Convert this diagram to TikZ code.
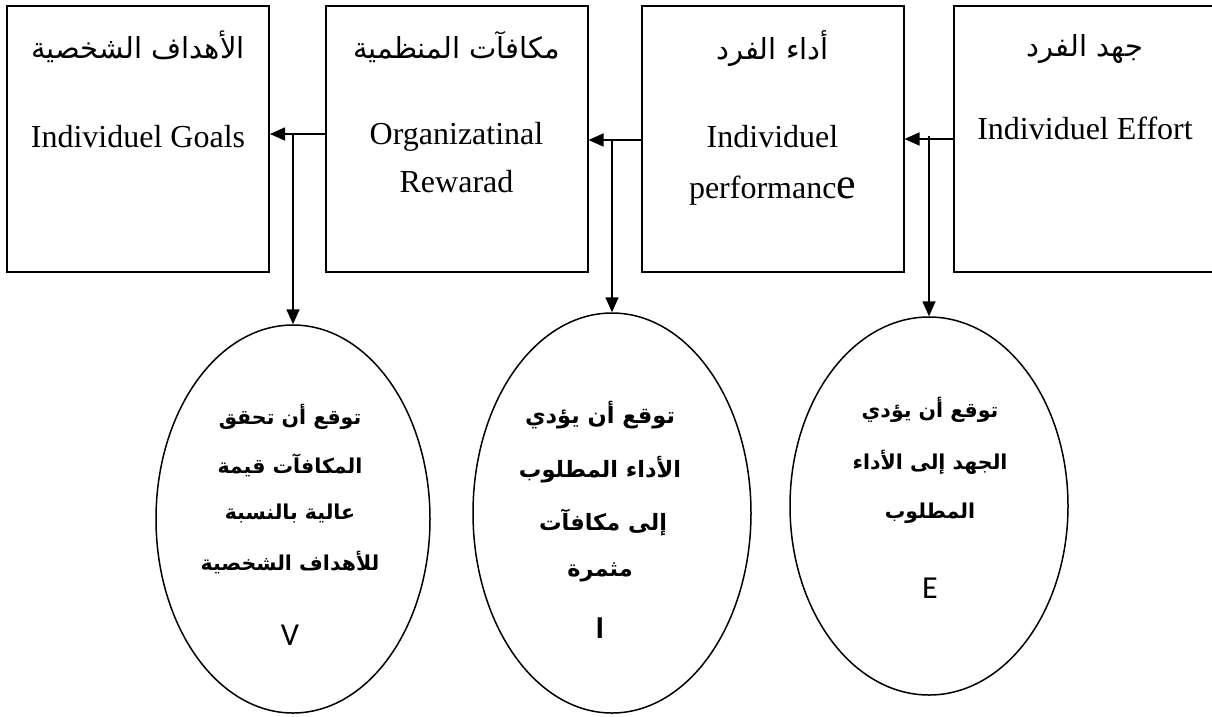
\documentclass[tikz,border=0pt]{standalone}
\usepackage{fontspec}
\setmainfont{Liberation Serif}
\newfontfamily\arabicfont[Script=Arabic]{DejaVu Sans}
\newfontfamily\lettersans{Carlito}
\TeXXeTstate=1
\usetikzlibrary{shapes.geometric,arrows.meta}

\begin{document}
\begin{tikzpicture}[x=1pt,y=-1pt,
  box/.style={draw,line width=2pt,minimum width=262pt,minimum height=266pt,inner sep=0pt},
  oval/.style={draw,ellipse,line width=1.5pt,inner sep=0pt},
  title/.style={font=\arabicfont\fontsize{29}{32}\selectfont,inner sep=0pt},
  eng/.style={font=\fontsize{32}{36}\selectfont,inner sep=0pt},
  hope/.style={font=\arabicfont\bfseries\fontsize{20.5}{24}\selectfont,inner sep=0pt},
  hopebig/.style={font=\arabicfont\bfseries\fontsize{22.5}{26}\selectfont,inner sep=0pt},
  letter/.style={font=\lettersans\fontsize{32}{36}\selectfont,inner sep=0pt},
  arr/.style={line width=1.6pt,-{Triangle[length=15pt,width=13pt]}}]

\useasboundingbox (0,0) rectangle (1212,716);

% the four stages of the chain
\node[box] (goals)  at (138,139)   {};
\node[box] (reward) at (456.5,139) {};
\node[box] (perf)   at (772.5,139) {};
\node[box] (effort) at (1085,139)  {};

\node[title] (goalsT)  at (138,47)   {\beginR الأهداف الشخصية\endR};
\node[title] (rewardT) at (456.5,47) {\beginR مكافآت المنظمية\endR};
\node[title] (perfT)   at (772.5,49) {\beginR أداء الفرد\endR};
\node[title] (effortT) at (1085,49)  {\beginR جهد الفرد\endR};

\node[eng] (goalsE)   at (138,137)   {Individuel Goals};
\node[eng] (rewardE1) at (456.5,137) {Organizatinal};
\node[eng] (rewardE2) at (456.5,182) {Rewarad};
\node[eng] (perfE1)   at (772.5,137) {Individuel};
\node[eng] (perfE2)   at (772.5,191) {performanc{\fontsize{44}{44}\selectfont e}};
\node[eng] (effortE)  at (1085,128)  {Individuel Effort};

% the three expectancies
\node[oval,minimum width=274pt,minimum height=388pt] (ovV) at (293,519) {};
\node[oval,minimum width=278pt,minimum height=400pt] (ovI) at (612,513) {};
\node[oval,minimum width=278pt,minimum height=378pt] (ovE) at (929,506) {};

\node[hope] (v1) at (290,417) {\beginR توقع أن تحقق\endR};
\node[hope] (v2) at (290,465) {\beginR المكافآت قيمة\endR};
\node[hope] (v3) at (290,513) {\beginR عالية بالنسبة\endR};
\node[hope] (v4) at (290,563) {\beginR للأهداف الشخصية\endR};
\node[letter] (vL) at (290,635) {V};

\node[hopebig] (i1) at (600,415) {\beginR توقع أن  يؤدي\endR};
\node[hopebig] (i2) at (600,470) {\beginR الأداء المطلوب\endR};
\node[hopebig] (i3) at (603,522) {\beginR إلى مكافآت\endR};
\node[hopebig] (i4) at (600,572) {\beginR مثمرة\endR};
\node[letter,font=\lettersans\bfseries\fontsize{32}{36}\selectfont] (iL) at (600,628) {I};

\node[hope] (e1) at (930,410) {\beginR توقع أن يؤدي\endR};
\node[hope] (e2) at (930,462) {\beginR الجهد إلى الأداء\endR};
\node[hope] (e3) at (930,513) {\beginR المطلوب\endR};
\node[letter] (eL) at (930,588) {E};

% links along the chain
\draw[arr] ([yshift=5pt]reward.west) -- ([yshift=5pt]goals.east);
\draw[arr] ([yshift=-1pt]perf.west) -- ([yshift=-1pt]reward.east);
\draw[arr] (effort.west) -- (perf.east);

% drops to each expectancy
\coordinate (j1) at (293,134);
\coordinate (j2) at (612,140);
\coordinate (j3) at (929,136);
\draw[arr] (j1) -- (ovV.north);
\draw[arr] (j2) -- (ovI.north);
\draw[arr] (j3) -- (ovE.north);
\end{tikzpicture}
\end{document}
